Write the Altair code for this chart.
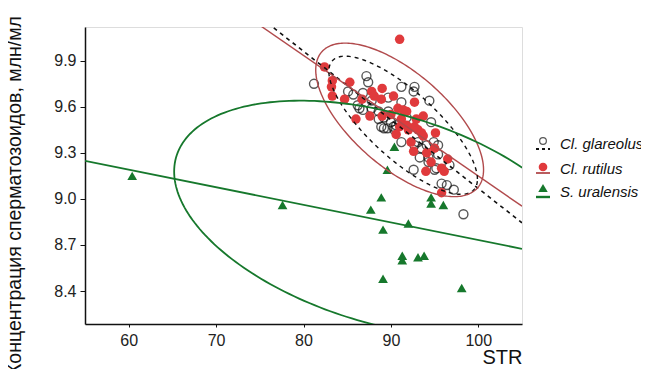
import numpy as np
import pandas as pd
import altair as alt

# ---- data ----
gl_x = [81.2, 87.2, 87.4, 91.2, 92.7, 92.6, 85.1, 85.7, 86.8, 89.7, 91.2, 94.4, 86.4, 87.8,
        88.6, 89.7, 88.9, 89.6, 90.0, 90.4, 94.6, 95.4, 94.3, 95.2, 92.6, 95.8, 96.4, 97.2,
        98.3, 93.5, 93.1, 94.1, 95.4, 96.7, 95.0, 90.6, 87.8, 91.8, 89.2,
        86.2, 86.8, 88.6, 89.2, 90.3, 91.2, 92.7, 93.3, 94.9, 94.3]
gl_y = [9.75, 9.80, 9.76, 9.73, 9.73, 9.70, 9.70, 9.68, 9.69, 9.66, 9.63, 9.64, 9.59, 9.59,
        9.57, 9.57, 9.47, 9.46, 9.50, 9.45, 9.50, 9.35, 9.24, 9.20, 9.19, 9.10, 9.09, 9.06,
        8.90, 9.33, 9.37, 9.35, 9.29, 9.22, 9.19, 9.48, 9.64, 9.53, 9.53,
        9.61, 9.58, 9.52, 9.46, 9.47, 9.37, 9.35, 9.27, 9.37, 9.27]

ru_x = [91.0, 82.4, 83.3, 83.2, 83.3, 85.3, 84.7, 86.7, 87.8, 88.1, 89.0, 88.9, 90.3, 86.0,
        87.6, 89.0, 90.0, 90.8, 91.4, 91.8, 92.7, 91.2, 90.6, 92.0, 92.7, 93.1, 93.7, 93.5,
        93.7, 95.1, 92.3, 92.6, 94.1, 95.0, 94.6, 96.5, 94.0, 95.8, 96.1, 95.8, 91.8, 92.9, 91.0]
ru_y = [10.04, 9.86, 9.77, 9.73, 9.67, 9.76, 9.65, 9.65, 9.70, 9.67, 9.72, 9.65, 9.67, 9.52,
        9.54, 9.54, 9.55, 9.59, 9.58, 9.57, 9.63, 9.52, 9.42, 9.45, 9.47, 9.45, 9.54, 9.43,
        9.41, 9.43, 9.37, 9.31, 9.30, 9.33, 9.24, 9.26, 9.18, 9.20, 9.18, 9.04, 9.48, 9.52, 9.47]

su_x = [60.4, 77.6, 87.7, 88.9, 89.6, 90.4, 89.1, 92.0, 94.6, 94.6, 96.0, 91.3, 91.3, 93.1,
        93.8, 89.1, 98.1]
su_y = [9.15, 8.96, 8.93, 9.01, 9.19, 9.34, 8.80, 8.84, 9.01, 8.97, 8.96, 8.63, 8.60, 8.62,
        8.63, 8.48, 8.42]

# ellipse parameters: centre x, centre y, half x-extent, half y-extent, correlation
ell_gl_par = [91.4, 9.48, 8.5, 0.45, -0.78]
ell_ru_par = [91.0, 9.515, 9.6, 0.50, -0.65]
ell_su_par = [89.3, 8.87, 24.1, 0.77, -0.40]

x_ticks = [60, 70, 80, 90, 100]
y_ticks = [8.4, 8.7, 9.0, 9.3, 9.6, 9.9]
X_DOMAIN = [55, 105]
Y_DOMAIN = [8.185, 10.12]

GREEN = "#16782c"
RED_PT = "#e03a3c"
RED_LN = "#b14a4c"
FONT = "Liberation Sans"


def ellipse_outline(par, n_pts=241):
    cx, cy, sx, sy, r = par
    t = np.linspace(0, 2 * np.pi, n_pts)
    x = cx + sx * np.cos(t)
    y = cy + sy * (r * np.cos(t) + np.sqrt(1 - r * r) * np.sin(t))
    return pd.DataFrame({"x": x, "y": y, "i": np.arange(n_pts)})


gl = pd.DataFrame({"x": gl_x, "y": gl_y})
ru = pd.DataFrame({"x": ru_x, "y": ru_y})
su = pd.DataFrame({"x": su_x, "y": su_y})

X = alt.X("x:Q", scale=alt.Scale(domain=X_DOMAIN, nice=False, zero=False),
          axis=alt.Axis(values=x_ticks, title="STR", grid=False, labelFont=FONT, labelFontSize=16,
                        labelColor="#222", tickSize=3, tickColor="#111", labelPadding=5,
                        domainColor="#111", domainWidth=1.5, titleFont=FONT, titleFontSize=20,
                        titleFontWeight="normal", titleColor="#111", titleAnchor="end",
                        titleAlign="right", titleX=437, titleY=33, titleBaseline="middle"))
Y = alt.Y("y:Q", scale=alt.Scale(domain=Y_DOMAIN, nice=False, zero=False),
          axis=alt.Axis(values=y_ticks, format=".1f", title="Концентрация сперматозоидов, млн/мл",
                        grid=False, labelFont=FONT, labelFontSize=16, labelColor="#222",
                        tickSize=5, tickColor="#111", labelPadding=4, domainColor="#111",
                        domainWidth=1.5, titleFont=FONT, titleFontSize=19.5,
                        titleFontWeight="normal", titleColor="#111", titleAngle=270,
                        titleAlign="center", titleBaseline="middle", titleX=-71, titleY=168))

pts_gl = alt.Chart(gl).mark_point(shape="circle", size=80, filled=False, color="#111",
                                  strokeWidth=1.4).encode(x=X, y=Y)
pts_ru = alt.Chart(ru).mark_point(shape="circle", size=90, filled=True, color=RED_PT,
                                  opacity=1).encode(x=X, y=Y)
pts_su = alt.Chart(su).mark_point(shape="triangle-up", size=95, filled=True, color=GREEN,
                                  opacity=1).encode(x=X, y=Y)

def reg(df, **kw):
    return (alt.Chart(df).transform_regression("x", "y", extent=X_DOMAIN)
            .mark_line(clip=True, **kw).encode(x=X, y=Y))

reg_gl = reg(gl, color="#111", strokeWidth=1.6, strokeDash=[4, 4])
reg_ru = reg(ru, color=RED_LN, strokeWidth=1.4)
reg_su = reg(su, color=GREEN, strokeWidth=1.8)

def ell(par, **kw):
    return alt.Chart(ellipse_outline(par)).mark_line(clip=True, **kw).encode(x=X, y=Y, order="i:Q")

ell_gl = ell(ell_gl_par, color="#111", strokeWidth=1.4, strokeDash=[4, 4])
ell_ru = ell(ell_ru_par, color=RED_LN, strokeWidth=1.4)
ell_su = ell(ell_su_par, color=GREEN, strokeWidth=1.8)

# ---- manual legend (outside plot area) ----
one = pd.DataFrame({"a": [0]})
legend_layers = []
lx = 458
entries = [
    ("Cl. glareolus", 114, 122, dict(shape="circle", size=45, filled=False, color="#111", strokeWidth=1.2),
     dict(color="#111", strokeWidth=1.8, strokeDash=[3, 3])),
    ("Cl. rutilus", 140, 146, dict(shape="circle", size=75, filled=True, color=RED_PT, opacity=1),
     dict(color=RED_LN, strokeWidth=1.8)),
    ("S. uralensis", 161, 170, dict(shape="triangle-up", size=90, filled=True, color=GREEN, opacity=1),
     dict(color=GREEN, strokeWidth=2.4)),
]
for label, ys, yl, skw, lkw in entries:
    legend_layers.append(alt.Chart(one).mark_point(**skw).encode(x=alt.value(lx), y=alt.value(ys)))
    legend_layers.append(alt.Chart(one).mark_rule(**lkw).encode(
        x=alt.value(lx - 7), x2=alt.value(lx + 7), y=alt.value(yl)))
    legend_layers.append(alt.Chart(one).mark_text(align="left", baseline="middle", font=FONT,
                                                  fontSize=15, fontStyle="italic", color="#111").encode(
        x=alt.value(475), y=alt.value((ys + yl) / 2 - 1), text=alt.value(label)))

chart = alt.layer(
    pts_gl, pts_ru, pts_su,
    reg_gl, reg_ru, reg_su,
    ell_gl, ell_ru, ell_su,
    *legend_layers,
).properties(
    width=437, height=297,
    padding={"left": 77, "top": 19, "right": 119, "bottom": 45},
    autosize=alt.AutoSizeParams(type="none"),
).configure_view(stroke=None).configure(background="white")

chart.save("out.html", embed_options={"renderer": "svg", "actions": False})
